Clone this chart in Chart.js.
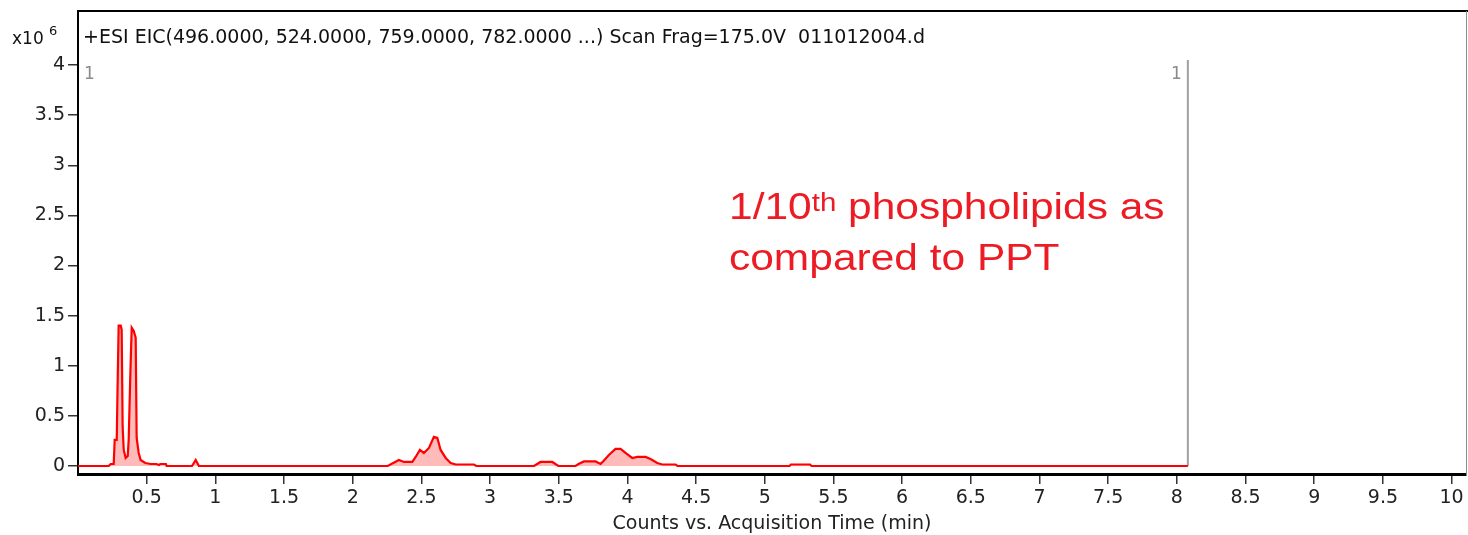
<!DOCTYPE html>
<html><head><meta charset="utf-8">
<script src="https://cdn.jsdelivr.net/npm/chart.js@4.4.0/dist/chart.umd.min.js"></script>
<style>
html,body{margin:0;padding:0;background:#fff;}
#wrap{position:relative;width:1468px;height:535px;overflow:hidden;}
#note{position:absolute;left:729px;top:183px;font-family:"Liberation Sans",Arial,sans-serif;font-size:36px;line-height:47px;color:#ed1c24;transform:scaleX(1.18);transform-origin:0 0;white-space:nowrap;}
#note .sup{font-size:25px;position:relative;top:-8px;}
</style></head><body>
<div id="wrap"><canvas id="c" width="1468" height="535"></canvas>
<div id="note">1/10<span class="sup">th</span> phospholipids as<br>compared to PPT</div></div>
<script>
// Retention time (min)
const timeMin = [0, 0.224, 0.238, 0.260, 0.267, 0.282, 0.289, 0.296, 0.311, 0.318, 0.325, 0.333, 0.347, 0.362, 0.369, 0.380, 0.391, 0.405, 0.420, 0.427, 0.442, 0.456, 0.49, 0.53, 0.57, 0.59, 0.60, 0.64, 0.645, 0.83, 0.857, 0.88,
  2.255, 2.295, 2.336, 2.373, 2.434, 2.458, 2.489, 2.518, 2.555, 2.591, 2.616, 2.640, 2.677, 2.713, 2.750, 2.882, 2.90,
  3.32, 3.367, 3.453, 3.497, 3.622, 3.644, 3.683, 3.768, 3.804, 3.826, 3.865, 3.913, 3.950, 3.986, 4.035, 4.071, 4.132, 4.168, 4.217, 4.253, 4.350, 4.364,
  5.18, 5.19, 5.33, 5.34, 8.08];
// Counts (x10^6)
const countsE6 = [0, 0, 0.02, 0.02, 0.26, 0.26, 0.86, 1.40, 1.40, 1.36, 0.39, 0.16, 0.08, 0.10, 0.26, 0.86, 1.38, 1.35, 1.28, 0.28, 0.13, 0.06, 0.03, 0.02, 0.02, 0.01, 0.02, 0.02, 0, 0, 0.06, 0,
  0, 0.03, 0.06, 0.04, 0.04, 0.09, 0.16, 0.13, 0.18, 0.29, 0.28, 0.16, 0.08, 0.03, 0.015, 0.015, 0,
  0, 0.04, 0.04, 0, 0, 0.02, 0.045, 0.045, 0.02, 0.05, 0.11, 0.17, 0.17, 0.13, 0.08, 0.09, 0.09, 0.07, 0.03, 0.015, 0.015, 0,
  0, 0.015, 0.015, 0, 0];
// End-of-acquisition marker
const markerTime = [8.08, 8.08];
const markerCounts = [0, 4.05];
const xTicks = [0.5, 1, 1.5, 2, 2.5, 3, 3.5, 4, 4.5, 5, 5.5, 6, 6.5, 7, 7.5, 8, 8.5, 9, 9.5, 10];
const yTicks = [0, 0.5, 1, 1.5, 2, 2.5, 3, 3.5, 4];
const chartTitle = '+ESI EIC(496.0000, 524.0000, 759.0000, 782.0000 ...) Scan Frag=175.0V  011012004.d';
const xAxisTitle = 'Counts vs. Acquisition Time (min)';
const yExponent = ['x10', '6'];
const rangeLabel = '1';

const FONT = '"DejaVu Sans", sans-serif';

const framePlugin = {
  id: 'frame',
  afterDraw(chart) {
    const {ctx, chartArea: a} = chart;
    const xs = chart.scales.x;
    ctx.save();
    ctx.strokeStyle = '#000'; ctx.lineWidth = 2;
    ctx.beginPath(); ctx.moveTo(a.left - 1, a.top); ctx.lineTo(chart.width, a.top); ctx.stroke();
    ctx.strokeStyle = '#8c8c8c'; ctx.lineWidth = 1;
    ctx.beginPath(); ctx.moveTo(a.right + 0.5, a.top); ctx.lineTo(a.right + 0.5, a.bottom); ctx.stroke();
    ctx.fillStyle = '#111'; ctx.textBaseline = 'alphabetic'; ctx.textAlign = 'left';
    ctx.font = '19px ' + FONT;
    ctx.fillText(chartTitle, a.left + 5, 43);
    ctx.font = '17px ' + FONT;
    ctx.fillText(yExponent[0], 12, 44);
    ctx.font = '13px ' + FONT;
    ctx.fillText(yExponent[1], 49, 35);
    ctx.fillStyle = '#8a8a8a'; ctx.font = '17px ' + FONT;
    ctx.fillText(rangeLabel, a.left + 6, 79);
    ctx.textAlign = 'right';
    ctx.fillText(rangeLabel, xs.getPixelForValue(markerTime[0]) - 6, 79);
    ctx.restore();
  }
};

new Chart(document.getElementById('c'), {
  type: 'line',
  data: {
    datasets: [
      {
        data: timeMin.map((t, i) => ({x: t, y: countsE6[i]})),
        borderColor: '#ff0000', borderWidth: 2.2,
        backgroundColor: 'rgba(255,0,0,0.27)', fill: 'origin',
        pointRadius: 0, tension: 0, order: 1
      },
      {
        data: markerTime.map((t, i) => ({x: t, y: markerCounts[i]})),
        borderColor: '#a0a0a0', borderWidth: 2, fill: false,
        pointRadius: 0, order: 2
      }
    ]
  },
  options: {
    responsive: false, animation: false, devicePixelRatio: 1,
    layout: {padding: {top: 11, right: 2, left: 0, bottom: 0}},
    plugins: {legend: {display: false}, tooltip: {enabled: false}, title: {display: false}},
    scales: {
      x: {
        type: 'linear', min: 0, max: 10.105,
        afterFit(s) { s.height = 61; s.paddingLeft = 0; s.paddingRight = 0; },
        afterBuildTicks(s) { s.ticks = xTicks.map(v => ({value: v})); },
        ticks: {autoSkip: false, maxRotation: 0, padding: 3, color: '#222', font: {family: FONT, size: 19}, callback: v => String(v)},
        grid: {drawOnChartArea: false, drawTicks: true, tickLength: 10, color: '#333', lineWidth: 1.5},
        border: {display: true, color: '#000', width: 3},
        title: {display: true, text: xAxisTitle, color: '#222', font: {family: FONT, size: 19}, padding: {top: 0, bottom: 0}}
      },
      y: {
        type: 'linear', min: -0.08, max: 4.539,
        afterFit(s) { s.width = 78; s.paddingTop = 0; s.paddingBottom = 0; },
        afterBuildTicks(s) { s.ticks = yTicks.map(v => ({value: v})); },
        ticks: {autoSkip: false, padding: 3, color: '#222', font: {family: FONT, size: 19}, callback: v => String(v)},
        grid: {drawOnChartArea: false, drawTicks: true, tickLength: 10, color: '#333', lineWidth: 1.5},
        border: {display: true, color: '#000', width: 2}
      }
    }
  },
  plugins: [framePlugin]
});
</script>
</body></html>
